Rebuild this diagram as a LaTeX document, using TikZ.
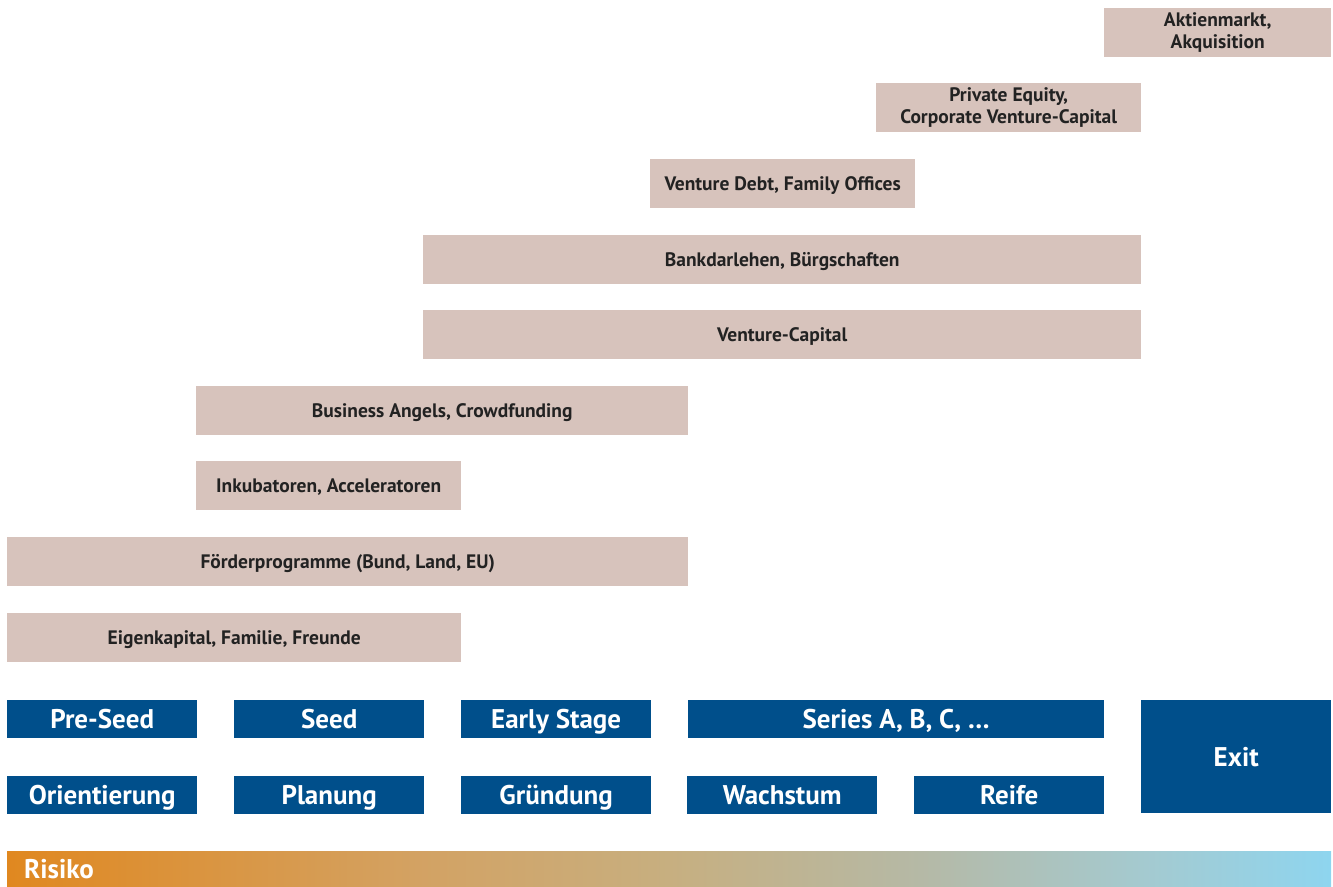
\documentclass[tikz,border=0pt]{standalone}
\usepackage{fontspec}
\setmainfont{PT Sans}
\definecolor{beige}{HTML}{D7C3BC}
\definecolor{phase}{HTML}{004F8B}
\definecolor{txt}{HTML}{222222}
\definecolor{rA}{HTML}{E08820}
\definecolor{rB}{HTML}{D3A263}
\definecolor{rC}{HTML}{C7AF80}
\definecolor{rD}{HTML}{B5B9A6}
\definecolor{rE}{HTML}{A4CAD0}
\definecolor{rF}{HTML}{8ED5EF}
\pgfdeclarehorizontalshading{risk}{100bp}{color(0bp)=(rA); color(25bp)=(rA); color(40.5bp)=(rB); color(50bp)=(rC); color(59.5bp)=(rD); color(68bp)=(rE); color(75bp)=(rF); color(100bp)=(rF)}
\tikzset{
  fin/.style={fill=beige, text=txt, inner sep=0pt, anchor=north west, align=center,
    minimum height=49pt, font=\bfseries\fontsize{19.5}{22}\selectfont},
  oneline/.style={text height=13.6pt, text depth=0pt},
  stage/.style={fill=phase, text=white, inner sep=0pt, anchor=north west, align=center,
    minimum height=38pt, minimum width=190pt, text height=19pt, text depth=0pt,
    font=\bfseries\fontsize{27}{30}\selectfont}
}
\begin{document}
\begin{tikzpicture}[x=1pt,y=-1pt]
\useasboundingbox (0,0) rectangle (1333,886);
% financing sources
\node[fin, minimum width=227pt] (akt) at (1104,8) {Aktienmarkt,\\Akquisition};
\node[fin, minimum width=265pt] (pe) at (876,83) {Private Equity,\\Corporate Venture-Capital};
\node[fin, oneline, minimum width=265pt] (vd) at (650,159) {Venture Debt, Family Offices};
\node[fin, oneline, minimum width=718pt] (bank) at (423,235) {Bankdarlehen, Bürgschaften};
\node[fin, oneline, minimum width=718pt] (vc) at (423,310) {Venture-Capital};
\node[fin, oneline, minimum width=492pt] (ba) at (196,386) {Business Angels, Crowdfunding};
\node[fin, oneline, minimum width=265pt] (ink) at (196,461) {Inkubatoren, Acceleratoren};
\node[fin, oneline, minimum width=681pt] (foe) at (7,537) {Förderprogramme (Bund, Land, EU)};
\node[fin, oneline, minimum width=454pt] (eig) at (7,613) {Eigenkapital, Familie, Freunde};
% stages
\node[stage] (pre) at (7,700) {Pre-Seed};
\node[stage] (seed) at (234,700) {Seed};
\node[stage] (early) at (461,700) {Early Stage};
\node[stage, minimum width=416pt] (series) at (688,700) {Series A, B, C, \dots};
\node[stage] (ori) at (7,776) {Orientierung};
\node[stage] (plan) at (234,776) {Planung};
\node[stage] (gru) at (461,776) {Gründung};
\node[stage] (wach) at (687,776) {Wachstum};
\node[stage] (reife) at (914,776) {Reife};
\node[stage, minimum height=113pt] (exit) at (1141,700) {Exit};
% risk bar
\shade[shading=risk] (7,851) rectangle (1331,886);
\node[anchor=west, text=white, inner sep=0pt, text height=19pt, text depth=0pt,
  font=\bfseries\fontsize{27}{30}\selectfont] (risk) at (24,869) {Risiko};
\end{tikzpicture}
\end{document}
